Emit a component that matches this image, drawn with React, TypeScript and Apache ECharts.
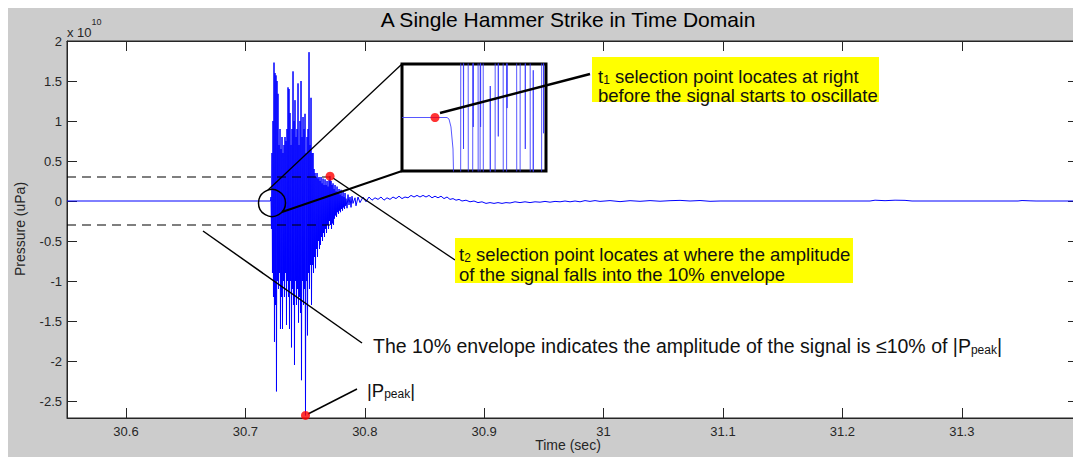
import React, { useEffect, useRef } from "react";
import * as echarts from "echarts";

const FONT = '"Liberation Sans", Arial, Helvetica, sans-serif';
const AXIS_COLOR = "#262626";

const X_MIN = 30.5506;
const X_MAX = 31.3973;
const Y_MIN = -2.7125;
const Y_MAX = 2;
const xTicks = [30.6, 30.7, 30.8, 30.9, 31, 31.1, 31.2, 31.3];
const yTicks = [-2.5, -2, -1.5, -1, -0.5, 0, 0.5, 1, 1.5, 2];

// quiet signal before the strike (x 10^10 uPa)
const preTime = [30.5506, 30.721];
const preValue = [0, 0];

// strike burst: per sample column, the upper and lower excursion
const burstTime = [
  30.72145, 30.72229, 30.72313, 30.72396, 30.7248, 30.72564, 30.72648, 30.72732, 30.72815, 30.72899,
  30.72983, 30.73067, 30.73151, 30.73234, 30.73318, 30.73402, 30.73486, 30.7357, 30.73653, 30.73737,
  30.73821, 30.73905, 30.73989, 30.74072, 30.74156, 30.7424, 30.74324, 30.74408, 30.74491, 30.74575,
  30.74659, 30.74743, 30.74827, 30.7491, 30.74994, 30.75078, 30.75162, 30.75246, 30.75329, 30.75413,
  30.75497, 30.75581, 30.75665, 30.75748, 30.75832, 30.75916, 30.76, 30.76084, 30.76167, 30.76251,
  30.76335, 30.76419, 30.76503, 30.76586, 30.7667, 30.76754, 30.76838, 30.76922, 30.77005, 30.77089,
  30.77173, 30.77257, 30.77341, 30.77424, 30.77508, 30.77592, 30.77676, 30.7776, 30.77843, 30.77927,
  30.78011, 30.78095, 30.78179, 30.78262, 30.78346,
];
const burstHigh = [
  0.05, 0.6, 1.0, 1.73, 1.6, 1.57, 1.5, 1.34, 0.7, 0.9,
  0.65, 0.8, 0.6, 0.7, 0.8, 0.75, 0.9, 1.42, 1.4, 1.1,
  0.7, 0.9, 1.62, 1.0, 1.26, 0.8, 0.9, 1.47, 0.7, 1.0,
  1.5, 0.8, 1.05, 0.9, 1.09, 0.6, 0.8, 0.9, 1.86, 0.7,
  1.29, 0.6, 0.6, 0.4, 0.35, 0.3, 0.35, 0.28, 0.3, 0.25,
  0.3, 0.22, 0.28, 0.2, 0.27, 0.2, 0.25, 0.18, 0.26, 0.31,
  0.25, 0.2, 0.22, 0.15, 0.2, 0.12, 0.18, 0.1, 0.15, 0.08,
  0.14, 0.06, 0.12, 0.05, 0.1,
];
const burstLow = [
  -0.35, -0.9, -1.2, -1.76, -1.3, -2.38, -1.0, -1.1, -0.9, -1.6,
  -1.2, -1.6, -1.0, -1.2, -0.9, -1.55, -1.0, -1.2, -1.6, -1.0,
  -1.83, -1.1, -1.3, -2.05, -1.0, -1.3, -1.1, -1.52, -1.2, -1.4,
  -2.24, -1.0, -1.3, -1.1, -2.68, -1.0, -1.68, -0.9, -1.1, -0.8,
  -1.3, -0.8, -0.9, -0.7, -0.84, -0.6, -0.7, -0.5, -0.6, -0.55,
  -0.45, -0.5, -0.4, -0.45, -0.35, -0.4, -0.3, -0.35, -0.25, -0.3,
  -0.35, -0.28, -0.3, -0.22, -0.18, -0.2, -0.14, -0.16, -0.12, -0.14,
  -0.1, -0.12, -0.08, -0.1, -0.06,
];

// decaying tail
const tailTime = [
  30.78427, 30.78511, 30.78594, 30.78678, 30.78762, 30.78846, 30.78929, 30.79013, 30.79181, 30.79264,
  30.79432, 30.79599, 30.79851, 30.80102, 30.80353, 30.80604, 30.80856, 30.81107, 30.81358, 30.81609,
  30.81861, 30.82112, 30.82363, 30.82614, 30.82866, 30.83117, 30.83368, 30.83619, 30.83871, 30.84122,
  30.84373, 30.84624, 30.84876, 30.85127, 30.85378, 30.85629, 30.85881, 30.86132, 30.86383, 30.86635,
  30.86886, 30.87137, 30.87388, 30.8764, 30.87891, 30.88142, 30.88477, 30.88812, 30.89147, 30.89482,
  30.89817, 30.90152, 30.90487, 30.90822, 30.91157, 30.91492, 30.91827, 30.92162, 30.92581, 30.93,
  30.93418, 30.93837, 30.94256, 30.94675, 30.95093, 30.95512, 30.95931, 30.9635, 30.96768, 30.97187,
  30.97606, 30.98025, 30.98444, 30.98862, 30.99281, 30.997, 31.00537, 31.01375, 31.02212, 31.0305,
  31.03888, 31.04725, 31.05563, 31.064, 31.07238, 31.08075, 31.08913, 31.0975, 31.22313, 31.22732,
  31.23569, 31.24407, 31.25244, 31.2583, 31.34708, 31.35043, 31.35713, 31.36216, 31.4,
];
const tailValue = [
  0.03, -0.09, 0.08, -0.05, 0.05, -0.08, 0.06, -0.03, 0.04, -0.06,
  0.05, -0.02, 0.05, -0.01, 0.05, 0.01, 0.04, 0.02, 0.05, 0.01,
  0.04, 0.02, 0.05, 0.03, 0.06, 0.03, 0.05, 0.04, 0.07, 0.05,
  0.07, 0.05, 0.07, 0.05, 0.07, 0.04, 0.06, 0.04, 0.06, 0.03,
  0.05, 0.02, 0.03, 0.01, 0.02, 0.0, 0.01, -0.01, 0.0, -0.02,
  -0.01, -0.03, -0.02, -0.03, -0.02, -0.03, -0.02, -0.025, -0.01, -0.02,
  -0.01, -0.02, -0.01, -0.015, -0.005, -0.015, -0.005, -0.01, 0.0, -0.01,
  0.0, -0.01, 0.005, -0.005, 0.005, -0.005, 0.005, -0.008, 0.004, -0.004,
  0.005, -0.003, 0.004, 0.008, 0.0, 0.006, -0.004, 0.0, 0.0, 0.01,
  0.004, 0.01, 0.008, 0.0, 0.0, 0.006, 0.002, 0.0, 0.0,
];

// 10% envelope
const envelopeLevel = 0.3;
const envelopeEnd = 30.7709;
// t2 selection point
const t2Point = [30.77089, 0.31];

// zoomed inset around the start of the strike
const insetXMin = 30.711;
const insetXMax = 30.73361;
const insetYMin = -0.17;
const insetYMax = 0.17;
const insetTime = [
  30.711, 30.71807, 30.71838, 30.71869, 30.71901, 30.71932, 30.71964, 30.72018, 30.72026, 30.72058,
  30.72066, 30.72073, 30.72136, 30.72144, 30.72207, 30.72215, 30.72219, 30.72224, 30.72293, 30.72298,
  30.72325, 30.72329, 30.72334, 30.7234, 30.72372, 30.7238, 30.72482, 30.72486, 30.72491, 30.7256,
  30.72565, 30.72607, 30.72612, 30.72617, 30.72686, 30.72692, 30.72741, 30.72745, 30.7275, 30.72755,
  30.72898, 30.72904, 30.72953, 30.72957, 30.73031, 30.73036, 30.73041, 30.7311, 30.73116, 30.73157,
  30.73161, 30.73166, 30.7329, 30.73295, 30.73318, 30.73323, 30.73329, 30.73424,
];
const insetValue = [
  0, 0, -0.005, -0.03, -0.1, -0.4, -0.9, -0.9, 0.9, 0.9,
  -0.1, 0.9, 0.9, -0.9, -0.9, 0.9, -0.03, 0.9, 0.9, -0.9,
  -0.9, 0.9, -0.03, 0.9, 0.9, -0.9, -0.9, 0.1, -0.9, -0.9,
  0.9, 0.9, -0.06, 0.9, 0.9, -0.9, -0.9, 0.9, 0.03, 0.9,
  0.9, -0.9, -0.9, 0.9, 0.9, -0.1, 0.9, 0.9, -0.9, -0.9,
  0.15, -0.9, -0.9, 0.9, 0.9, -0.05, 0.9, 0.9,
];
const t1Point = [30.71618, 0];

function buildSignal() {
  const pts: number[][] = [];
  preTime.forEach((t, i) => pts.push([t, preValue[i]]));
  burstTime.forEach((t, i) => {
    pts.push([t, burstHigh[i]]);
    pts.push([t + 0.0004, burstLow[i]]);
  });
  tailTime.forEach((t, i) => pts.push([t, tailValue[i]]));
  return pts;
}

function peakPoint() {
  let idx = 0;
  burstLow.forEach((v, i) => {
    if (v < burstLow[idx]) idx = i;
  });
  return [burstTime[idx] + 0.0004, burstLow[idx]];
}

const rich = (size: number) => ({
  n: { fontSize: size, fontFamily: FONT, fill: "#111", color: "#111", lineHeight: 26, verticalAlign: "bottom" },
  s: { fontSize: 12, fontFamily: FONT, fill: "#111", color: "#111", lineHeight: 12, verticalAlign: "bottom" },
});

function line(x1: number, y1: number, x2: number, y2: number, w: number) {
  return {
    type: "line",
    z: 100,
    shape: { x1, y1, x2, y2 },
    style: { stroke: "#000", lineWidth: w },
  };
}

function text(x: number, y: number, str: string, size: number) {
  return {
    type: "text",
    z: 110,
    x,
    y,
    style: { text: str, rich: rich(size), align: "left", verticalAlign: "middle" },
  };
}

export default function App() {
  const ref = useRef<HTMLDivElement>(null);
  useEffect(() => {
    const chart = echarts.init(ref.current!, null, { renderer: "svg" });
    const tickStyle = { color: AXIS_COLOR, width: 1 };
    const option: any = {
      animation: false,
      backgroundColor: "#cccccc",
      grid: [
        { left: 59, top: 33, right: 0, bottom: 39, show: true, backgroundColor: "#ffffff", borderColor: AXIS_COLOR, borderWidth: 1 },
        { left: 394, top: 56, width: 144, height: 107, show: true, backgroundColor: "#ffffff", borderColor: "#000", borderWidth: 3, z: 50 },
      ],
      xAxis: [
        {
          type: "value", gridIndex: 0, min: X_MIN, max: X_MAX, position: "bottom",
          axisLine: { show: true, onZero: false, lineStyle: tickStyle },
          axisTick: { show: true, inside: true, length: 10, customValues: xTicks, lineStyle: tickStyle },
          axisLabel: { customValues: xTicks, color: AXIS_COLOR, fontSize: 13, fontFamily: FONT, margin: 7 },
          splitLine: { show: false },
        },
        {
          type: "value", gridIndex: 0, min: X_MIN, max: X_MAX, position: "top",
          axisLine: { show: true, onZero: false, lineStyle: tickStyle },
          axisTick: { show: true, inside: true, length: 10, customValues: xTicks, lineStyle: tickStyle },
          axisLabel: { show: false },
          splitLine: { show: false },
        },
        {
          type: "value", gridIndex: 1, min: insetXMin, max: insetXMax, show: false,
        },
      ],
      yAxis: [
        {
          type: "value", gridIndex: 0, min: Y_MIN, max: Y_MAX, position: "left",
          axisLine: { show: true, onZero: false, lineStyle: tickStyle },
          axisTick: { show: true, inside: true, length: 10, customValues: yTicks, lineStyle: tickStyle },
          axisLabel: { customValues: yTicks, color: AXIS_COLOR, fontSize: 13, fontFamily: FONT, margin: 5 },
          splitLine: { show: false },
        },
        {
          type: "value", gridIndex: 0, min: Y_MIN, max: Y_MAX, position: "right",
          axisLine: { show: true, onZero: false, lineStyle: tickStyle },
          axisTick: { show: true, inside: true, length: 10, customValues: yTicks, lineStyle: tickStyle },
          axisLabel: { show: false },
          splitLine: { show: false },
        },
        {
          type: "value", gridIndex: 1, min: insetYMin, max: insetYMax, show: false,
        },
      ],
      series: [
        {
          type: "line", xAxisIndex: 0, yAxisIndex: 0, data: buildSignal(), showSymbol: false, symbol: "none",
          lineStyle: { color: "#0000ff", width: 1 }, itemStyle: { color: "#0000ff" }, z: 2, clip: true,
        },
        {
          type: "line", xAxisIndex: 0, yAxisIndex: 0, symbol: "none",
          data: [[X_MIN, envelopeLevel], [envelopeEnd, envelopeLevel]],
          lineStyle: { color: "#000", width: 1.2, type: [9, 6] }, z: 5,
        },
        {
          type: "line", xAxisIndex: 0, yAxisIndex: 0, symbol: "none",
          data: [[X_MIN, -envelopeLevel], [envelopeEnd, -envelopeLevel]],
          lineStyle: { color: "#000", width: 1.2, type: [9, 6] }, z: 5,
        },
        {
          type: "scatter", xAxisIndex: 0, yAxisIndex: 0, symbolSize: 9,
          data: [peakPoint(), t2Point], itemStyle: { color: "#ff0000" }, z: 120,
        },
        {
          type: "line", xAxisIndex: 2, yAxisIndex: 2, data: insetTime.map((t, i) => [t, insetValue[i]]),
          showSymbol: false, symbol: "none", lineStyle: { color: "#3a3aff", width: 1, opacity: 0.85 }, z: 60, clip: true,
        },
        {
          type: "scatter", xAxisIndex: 2, yAxisIndex: 2, symbolSize: 9,
          data: [t1Point], itemStyle: { color: "#ff0000" }, z: 120,
        },
      ],
      graphic: [
        {
          type: "text", z: 110, x: 560, y: 11,
          style: { text: "A Single Hammer Strike in Time Domain", fontSize: 21, fontFamily: FONT, fill: "#000", align: "center", verticalAlign: "middle" },
        },
        {
          type: "text", z: 110, x: 59, y: 20,
          style: {
            text: "{a|x 10}{b|10}", align: "left", verticalAlign: "middle",
            rich: {
              a: { fontSize: 13, fontFamily: FONT, fill: AXIS_COLOR, color: AXIS_COLOR, lineHeight: 22, verticalAlign: "bottom" },
              b: { fontSize: 9, fontFamily: FONT, fill: AXIS_COLOR, color: AXIS_COLOR, lineHeight: 10, verticalAlign: "top" },
            },
          },
        },
        {
          type: "text", z: 110, x: 12, y: 221, rotation: Math.PI / 2,
          style: { text: "Pressure (uPa)", fontSize: 14, fontFamily: FONT, fill: AXIS_COLOR, align: "center", verticalAlign: "middle" },
        },
        {
          type: "text", z: 110, x: 560, y: 437,
          style: { text: "Time (sec)", fontSize: 14, fontFamily: FONT, fill: AXIS_COLOR, align: "center", verticalAlign: "middle" },
        },
        {
          type: "circle", z: 100, shape: { cx: 264, cy: 195, r: 13.5 },
          style: { fill: "none", stroke: "#000", lineWidth: 1.5 },
        },
        line(260, 182, 394, 56, 1.3),
        line(274, 204, 394, 163, 2),
        line(432, 105, 582, 66, 2.5),
        line(325, 170, 447, 252, 1.5),
        line(195, 223, 354, 335, 1.5),
        line(300, 406, 349, 381, 1.5),
        { type: "rect", z: 105, shape: { x: 584, y: 49, width: 287, height: 45 }, style: { fill: "#ffff00" } },
        { type: "rect", z: 105, shape: { x: 447, y: 230, width: 398, height: 45 }, style: { fill: "#ffff00" } },
        text(590, 65, "{n|t}{s|1}{n| selection point locates at right}", 18.5),
        text(590, 84, "{n|before the signal starts to oscillate}", 18.5),
        text(451, 243, "{n|t}{s|2}{n| selection point locates at where the amplitude}", 18.5),
        text(451, 263, "{n|of the signal falls into the 10% envelope}", 18.5),
        text(365, 335, "{n|The 10% envelope indicates the amplitude of the signal is \u226410% of |P}{s|peak}{n||}", 19.5),
        text(359, 379, "{n||P}{s|peak}{n||}", 18.5),
      ],
    };
    chart.setOption(option);
    return () => chart.dispose();
  }, []);
  return (
    <div
      style={{
        position: "fixed",
        left: 8,
        top: 8,
        width: 1065,
        height: 449,
        overflow: "hidden",
        background: "#cccccc",
      }}
    >
      <div ref={ref} style={{ width: 1070, height: 449 }} />
    </div>
  );
}
